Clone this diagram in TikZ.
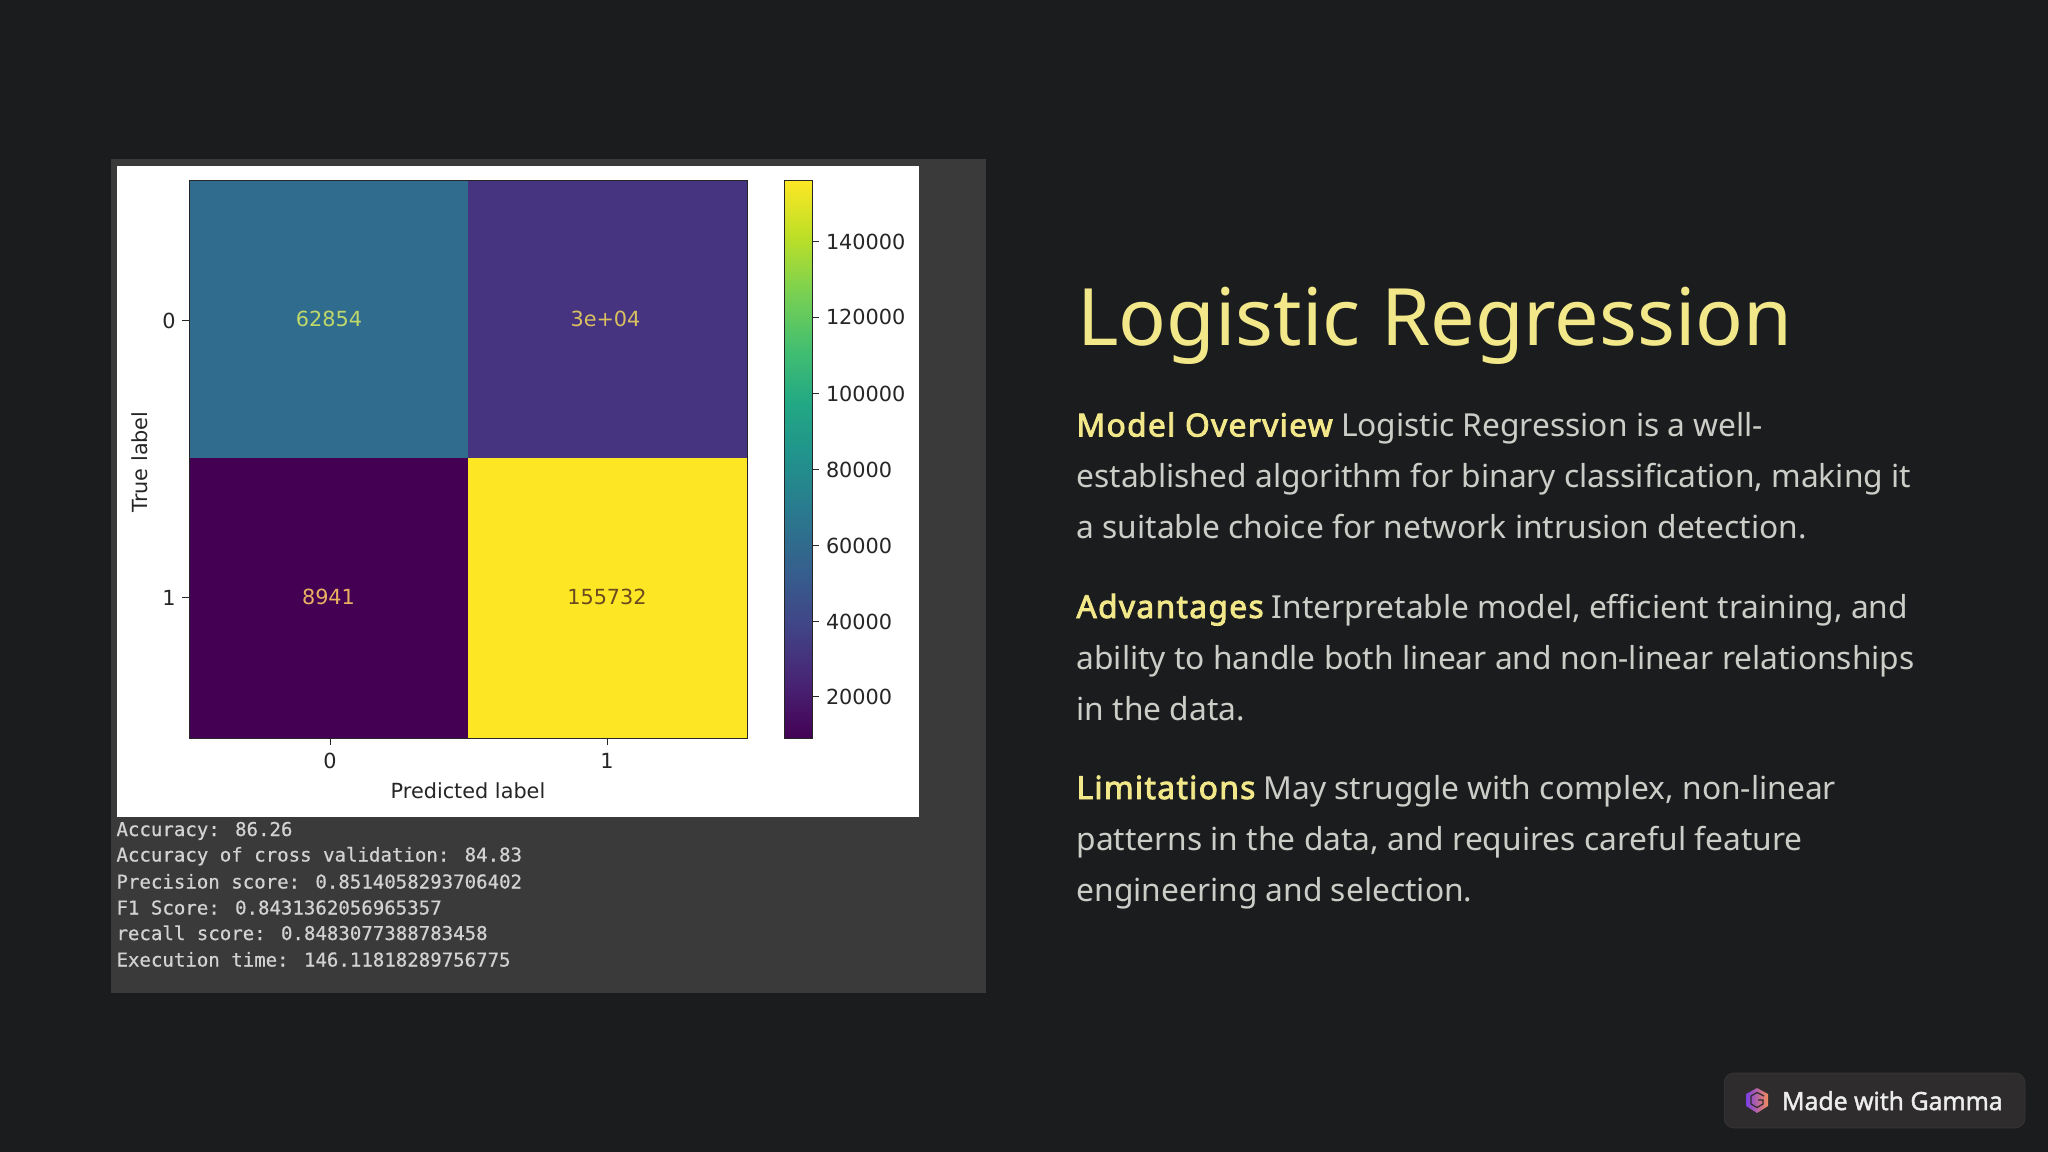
\documentclass[tikz,border=0pt]{standalone}
\usepackage{fontspec}
\setmainfont{Noto Sans}
\newfontfamily\hdfont[FakeBold=2.8,LetterSpace=4.2]{Noto Sans}
\newfontfamily\plotfont{DejaVu Sans}
\newfontfamily\monofont[FakeBold=0.6]{DejaVu Sans Mono}
\newfontfamily\badgefont[FakeBold=2]{Open Sans}
\definecolor{bgc}{HTML}{1B1C1E}
\definecolor{panelc}{HTML}{3A3A3A}
\definecolor{titlec}{HTML}{F2E88A}
\definecolor{bodyc}{HTML}{CDCDC8}
\definecolor{monoc}{HTML}{D2D2D2}
\definecolor{inkc}{HTML}{262626}
\definecolor{cellA}{HTML}{2F6C8E}
\definecolor{cellB}{HTML}{463480}
\definecolor{cellC}{HTML}{440154}
\definecolor{cellD}{HTML}{FDE725}
\definecolor{textA}{HTML}{BFD86A}
\definecolor{textB}{HTML}{D8C060}
\definecolor{textC}{HTML}{E8B060}
\definecolor{textD}{HTML}{6B4A20}
\definecolor{badgec}{HTML}{2E2C2C}
\definecolor{badgeline}{HTML}{3A3838}
\definecolor{logoL}{HTML}{7B3FE4}
\definecolor{logoR}{HTML}{F08A5D}
\definecolor{v00}{HTML}{440154}\definecolor{v10}{HTML}{482475}
\definecolor{v20}{HTML}{414487}\definecolor{v30}{HTML}{355F8D}
\definecolor{v40}{HTML}{2A788E}\definecolor{v50}{HTML}{21918C}
\definecolor{v60}{HTML}{22A884}\definecolor{v70}{HTML}{44BF70}
\definecolor{v80}{HTML}{7AD151}\definecolor{v90}{HTML}{BDDF26}
\definecolor{v100}{HTML}{FDE725}
\pgfdeclareverticalshading{viridis}{100bp}{
 color(0bp)=(v00); color(25bp)=(v00); color(30bp)=(v10); color(35bp)=(v20);
 color(40bp)=(v30); color(45bp)=(v40); color(50bp)=(v50); color(55bp)=(v60);
 color(60bp)=(v70); color(65bp)=(v80); color(70bp)=(v90); color(75bp)=(v100);
 color(100bp)=(v100)}
\tikzset{
 x=0.75pt,y=-0.75pt,
 tx/.style={inner sep=0pt,outer sep=0pt},
 plot/.style={tx,font=\plotfont\fontsize{15.6}{18}\selectfont,text=inkc},
 mono/.style={tx,anchor=base west,font=\monofont\fontsize{14.3}{17}\selectfont,text=monoc},
 para/.style={tx,anchor=base west,align=left,text=bodyc,font=\fontsize{23.8}{38.25}\selectfont},
 axisline/.style={draw=inkc,line width=0.75pt},
 tickmark/.style={draw=inkc,line width=0.7pt},
}
\newcommand{\hd}[1]{{\color{titlec}\hdfont #1}}
\begin{document}
\begin{tikzpicture}
\useasboundingbox (0,0) rectangle (2048,1152);
\fill[bgc] (0,0) rectangle (2048,1152);
% screenshot panel
\fill[panelc] (111,159) rectangle (986,993);
\fill[white] (116.5,166) rectangle (919,817);
% heatmap cells
\fill[cellA] (189.5,180.5) rectangle (468,458);
\fill[cellB] (468,180.5) rectangle (747,458);
\fill[cellC] (189.5,458) rectangle (468,738);
\fill[cellD] (468,458) rectangle (747,738);
\draw[axisline] (189.5,180.5) rectangle (747,738);
\node[plot,text=textA] (c00) at (329,319) {62854};
\node[plot,text=textB] (c01) at (605.5,319) {3e+04};
\node[plot,text=textC] (c10) at (328.5,597) {8941};
\node[plot,text=textD] (c11) at (607,597) {155732};
% axis ticks and labels
\foreach \yy/\lab in {320.5/0,597.5/1}{
  \draw[tickmark] (182,\yy) -- (189,\yy);
  \node[plot] at (169,\yy) {\lab};
}
\foreach \xx/\lab in {330/0,607/1}{
  \draw[tickmark] (\xx,738) -- (\xx,745);
  \node[plot] at (\xx,761) {\lab};
}
\node[plot] (xlab) at (468,791) {Predicted label};
\node[plot,rotate=90] (ylab) at (139.5,462) {True label};
% colour bar
\shade[shading=viridis] (784,180.5) rectangle (812,738);
\draw[axisline] (784,180.5) rectangle (812,738);
\foreach \yy/\lab in {241.5/140000,317/120000,393.5/100000,469.5/80000,545.5/60000,621.5/40000,696.5/20000}{
  \draw[tickmark] (812,\yy) -- (819,\yy);
  \node[plot,anchor=west] at (826,\yy) {\lab};
}
% metrics
\node[mono] (m1) at (116.5,836) {Accuracy: 86.26};
\node[mono] (m2) at (116.5,861.5) {Accuracy of cross validation: 84.83};
\node[mono] (m3) at (116.5,888.5) {Precision score: 0.8514058293706402};
\node[mono] (m4) at (116.5,914.5) {F1 Score: 0.8431362056965357};
\node[mono] (m5) at (116.5,940) {recall score: 0.8483077388783458};
\node[mono] (m6) at (116.5,966.5) {Execution time: 146.11818289756775};
% right column
\node[tx,anchor=base west,text=titlec,font=\fontsize{59.4}{64}\selectfont] (title) at (1077,345) {Logistic Regression};
\node[para] (p1) at (1076.5,538.5) {\hd{Model Overview} Logistic Regression is a well-\\established algorithm for binary classification, making it\\a suitable choice for network intrusion detection.};
\node[para] (p2) at (1076.5,720) {\hd{Advantages} Interpretable model, efficient training, and\\ability to handle both linear and non-linear relationships\\in the data.};
\node[para] (p3) at (1076.5,901) {\hd{Limitations} May struggle with complex, non-linear\\patterns in the data, and requires careful feature\\engineering and selection.};
% badge
\draw[fill=badgec,draw=badgeline,rounded corners=7.5pt] (1724,1073) rectangle (2025,1128);
\shade[left color=logoL,right color=logoR] (1757,1088) -- (1768,1094) -- (1768,1106) -- (1757,1113) -- (1746,1106) -- (1746,1094) -- cycle;
\draw[badgec,line width=0.9pt] (1764,1096) -- (1757,1092.5) -- (1751,1096) -- (1751,1104) -- (1757,1107.5) -- (1763,1104) -- (1763,1100) -- (1758,1100);
\node[tx,anchor=base west,text=white!93!black,font=\badgefont\fontsize{18.7}{22}\selectfont] (badge) at (1782,1110) {Made with Gamma};
\end{tikzpicture}
\end{document}
